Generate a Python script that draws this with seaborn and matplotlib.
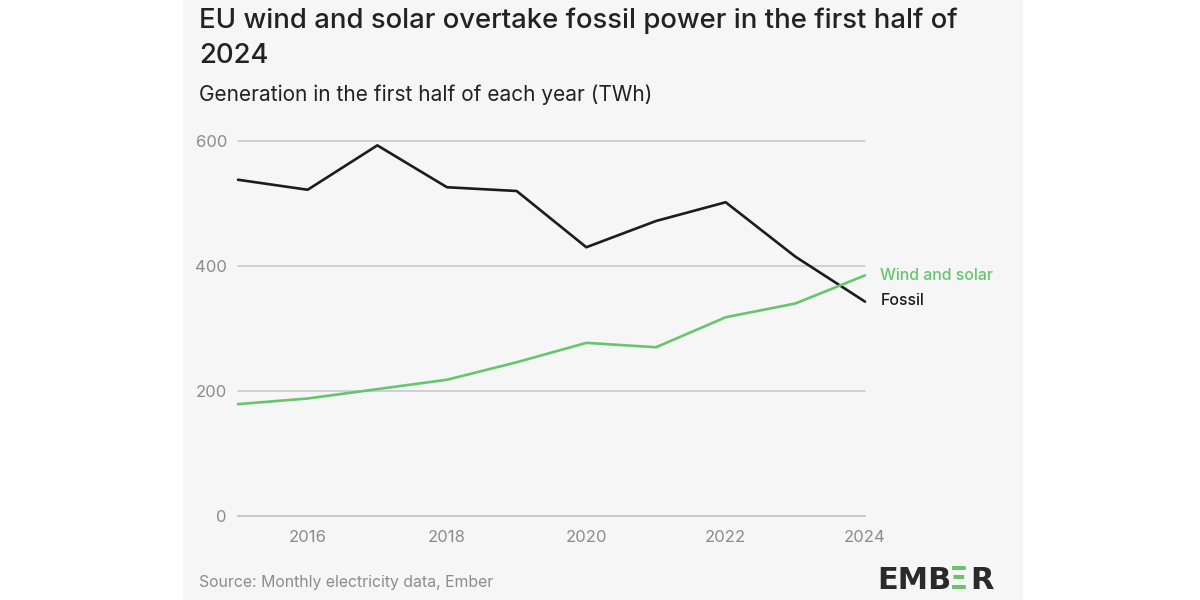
import matplotlib
matplotlib.use("Agg")
import matplotlib.pyplot as plt
import seaborn as sns
import pandas as pd
from matplotlib.patches import Rectangle

years = [2015, 2016, 2017, 2018, 2019, 2020, 2021, 2022, 2023, 2024]
fossil = [538, 522, 593, 526, 520, 430, 472, 502, 415, 343]
wind_solar = [179, 188, 203, 218, 246, 277, 270, 318, 340, 385]
series_names = ["Fossil", "Wind and solar"]
x_ticks = [2016, 2018, 2020, 2022, 2024]
y_ticks = [0, 200, 400, 600]

title_lines = ["EU wind and solar overtake fossil power in the first half of", "2024"]
subtitle = "Generation in the first half of each year (TWh)"
source = "Source: Monthly electricity data, Ember"

df = pd.DataFrame({
    "year": years * 2,
    "value": fossil + wind_solar,
    "series": [series_names[0]] * len(years) + [series_names[1]] * len(years),
})

sns.set_theme(style="white")
plt.rcParams["font.family"] = ["Inter", "DejaVu Sans"]

BG = "#f6f6f6"
GREEN = "#66c66e"
DARK = "#1c1c1c"
GREY = "#8c8c8c"

fig = plt.figure(figsize=(12, 6), dpi=100)
fig.patch.set_facecolor("white")
fig.patches.append(Rectangle((183 / 1200, 0), (1023 - 183) / 1200, 1,
                             transform=fig.transFigure, facecolor=BG,
                             edgecolor="none", zorder=-10))

ax = fig.add_axes([238 / 1200, 1 - 516 / 600, (865 - 238) / 1200, 375 / 600])
ax.set_facecolor(BG)
ax.patch.set_alpha(0)

sns.lineplot(data=df, x="year", y="value", hue="series",
             palette={series_names[0]: DARK, series_names[1]: GREEN},
             linewidth=1.9, ax=ax, legend=False, zorder=3)

ax.set_xlim(years[0], years[-1])
ax.set_ylim(0, 600)
ax.set_xticks(x_ticks)
ax.set_yticks(y_ticks)
ax.set_xticklabels([str(t) for t in x_ticks])
ax.set_yticklabels([str(t) for t in y_ticks])
ax.set_xlabel("")
ax.set_ylabel("")
for line in ax.lines:
    line.set_clip_on(False)

for s in ["top", "right", "left"]:
    ax.spines[s].set_visible(False)
ax.spines["bottom"].set_color("#bdbdbd")
ax.spines["bottom"].set_linewidth(1.2)
for yv in y_ticks[1:]:
    ax.axhline(yv, color="#c6c6c6", linewidth=1.1, zorder=1, clip_on=False)

ax.tick_params(axis="x", direction="out", length=4, width=1.2, color="#bdbdbd",
               labelsize=12, labelcolor=GREY, pad=6)
ax.tick_params(axis="y", length=0, labelsize=12, labelcolor=GREY, pad=8)

# end labels
ax.text(years[-1] + 0.22, wind_solar[-1], series_names[1], color=GREEN,
        fontsize=11.4, fontweight="medium", va="center", ha="left", clip_on=False)
ax.text(years[-1] + 0.22, fossil[-1] + 2, series_names[0], color=DARK,
        fontsize=11.4, fontweight="medium", va="center", ha="left", clip_on=False)

fig.text(199 / 1200, 1 - 28 / 600, title_lines[0], fontsize=19.8, fontweight="medium",
         color="#222222", va="baseline", ha="left")
fig.text(199 / 1200, 1 - 63 / 600, title_lines[1], fontsize=19.8, fontweight="medium",
         color="#222222", va="baseline", ha="left")
fig.text(199 / 1200, 1 - 101 / 600, subtitle, fontsize=15, color="#222222",
         va="baseline", ha="left")
fig.text(199 / 1200, 1 - 583 / 600, source, fontsize=11.4, color=GREY,
         va="center", ha="left")

# EMBER logo
logo_y = 1 - 589 / 600
fig.text(877 / 1200, logo_y, "EMB", fontsize=22, fontweight="bold",
         color="#2a2a2a", va="baseline", ha="left", family="DejaVu Sans")
fig.text(949 / 1200, logo_y, "\u039e", fontsize=22, fontweight="bold",
         color=GREEN, va="baseline", ha="left", family="DejaVu Sans")
fig.text(970 / 1200, logo_y, "R", fontsize=22, fontweight="bold",
         color="#2a2a2a", va="baseline", ha="left", family="DejaVu Sans")

fig.savefig("out.png", dpi=100, facecolor=fig.get_facecolor())
